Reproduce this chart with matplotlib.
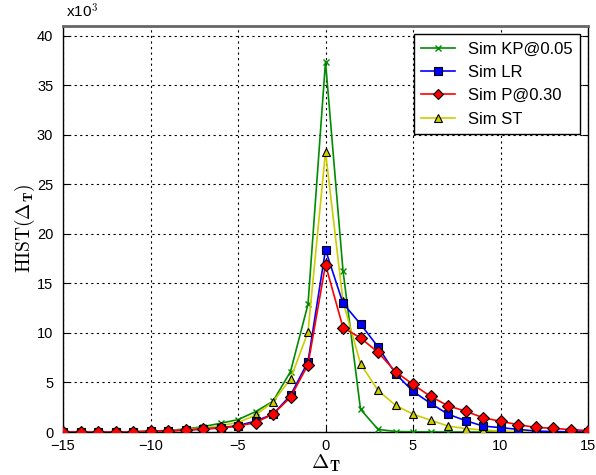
import matplotlib
matplotlib.use("Agg")
import matplotlib.pyplot as plt
import numpy as np

plt.rcParams['font.family'] = ['Liberation Sans', 'DejaVu Sans']
plt.rcParams['mathtext.fontset'] = 'cm'

x = list(range(-15, 16))
# values in thousands
kp = [0.0, 0.0, 0.0, 0.0, 0.02, 0.08, 0.15, 0.3, 0.54, 0.88, 1.25, 2.05, 3.1, 6.1, 12.9,
      37.4, 16.3, 2.3, 0.27, 0.05, 0.02, 0.01, 0.0, 0.0, 0.0, 0.0, 0.0, 0.0, 0.0, 0.0, 0.0]
lr = [0.0, 0.0, 0.0, 0.0, 0.01, 0.07, 0.12, 0.2, 0.3, 0.43, 0.64, 1.1, 1.8, 3.7, 7.1,
      18.4, 13.0, 10.9, 8.6, 5.9, 4.1, 2.9, 1.8, 1.15, 0.6, 0.44, 0.27, 0.1, 0.05, 0.02, 0.0]
p = [0.0, 0.0, 0.0, 0.0, 0.01, 0.06, 0.1, 0.18, 0.3, 0.4, 0.6, 0.95, 1.8, 3.5, 6.8,
     16.9, 10.55, 9.5, 8.05, 6.1, 4.8, 3.6, 2.65, 2.1, 1.45, 1.08, 0.74, 0.47, 0.37, 0.24, 0.15]
st = [0.0, 0.0, 0.0, 0.0, 0.02, 0.1, 0.15, 0.3, 0.4, 0.65, 0.95, 1.7, 3.05, 5.35, 10.1,
      28.3, 13.2, 6.9, 4.2, 2.7, 1.8, 1.2, 0.6, 0.35, 0.2, 0.1, 0.05, 0.02, 0.01, 0.0, 0.0]

labels = ['Sim KP@0.05', 'Sim LR', 'Sim P@0.30', 'Sim ST']
xticks = [-15, -10, -5, 0, 5, 10, 15]
yticks = [0, 5, 10, 15, 20, 25, 30, 35, 40]

fig = plt.figure(figsize=(5.96, 4.75), dpi=100)
ax = fig.add_axes([63/596, 1-432/475, (588-63)/596, (432-25.5)/475])

green = (0.0, 0.55, 0.0)
yellow = (0.8, 0.8, 0.0)
ax.plot(x, kp, color=green, lw=1.2, marker='x', ms=5, mew=1.0, mec=green, label=labels[0], zorder=3)
ax.plot(x, lr, color='#0000ff', lw=1.2, marker='s', ms=6, mfc='#0000ff', mec='black', mew=0.8, label=labels[1], zorder=4)
ax.plot(x, p, color='#ff0000', lw=1.2, marker='D', ms=6, mfc='#ff0000', mec='black', mew=0.8, label=labels[2], zorder=5)
ax.plot(x, st, color=yellow, lw=1.2, marker='^', ms=6, mfc=yellow, mec='black', mew=0.8, label=labels[3], zorder=3)

ax.set_xlim(-15, 15)
ax.set_ylim(0, 41.05)
ax.set_xticks(xticks)
ax.set_xticklabels(['\u221215', '\u221210', '\u22125', '0', '5', '10', '15'])
ax.set_yticks(yticks)
ax.tick_params(direction='in', labelsize=10.5, length=4, width=0.8, top=False, right=True)
ax.tick_params(axis='y', pad=7)
ax.tick_params(axis='x', pad=5)
ax.grid(True, color='black', linestyle=(0, (2, 3)), linewidth=0.8)
ax.set_axisbelow(True)
for s in ['left', 'bottom', 'right']:
    ax.spines[s].set_linewidth(1.0)
ax.spines['top'].set_color('#666666')
ax.spines['top'].set_linewidth(2.0)

ax.set_xlabel(r'$\Delta_{\mathbf{T}}$', fontsize=15, labelpad=0)
ax.set_ylabel(r'$\mathrm{HIST}(\Delta_{\mathbf{T}})$', fontsize=14, labelpad=0)
fig.text(66/596, 1-12/475, r'x10$^{\mathsf{3}}$', fontsize=11, ha='left', va='center')

leg = ax.legend(loc='upper right', bbox_to_anchor=(580/596, 1-34/475), bbox_transform=fig.transFigure,
                borderaxespad=0, fancybox=False, edgecolor='black', framealpha=1, fontsize=12,
                handlelength=2.0, borderpad=0.45, labelspacing=0.5, handletextpad=0.8,
                markerscale=0.85)
leg.get_frame().set_linewidth(1.0)

fig.savefig('out.png', dpi=100)
